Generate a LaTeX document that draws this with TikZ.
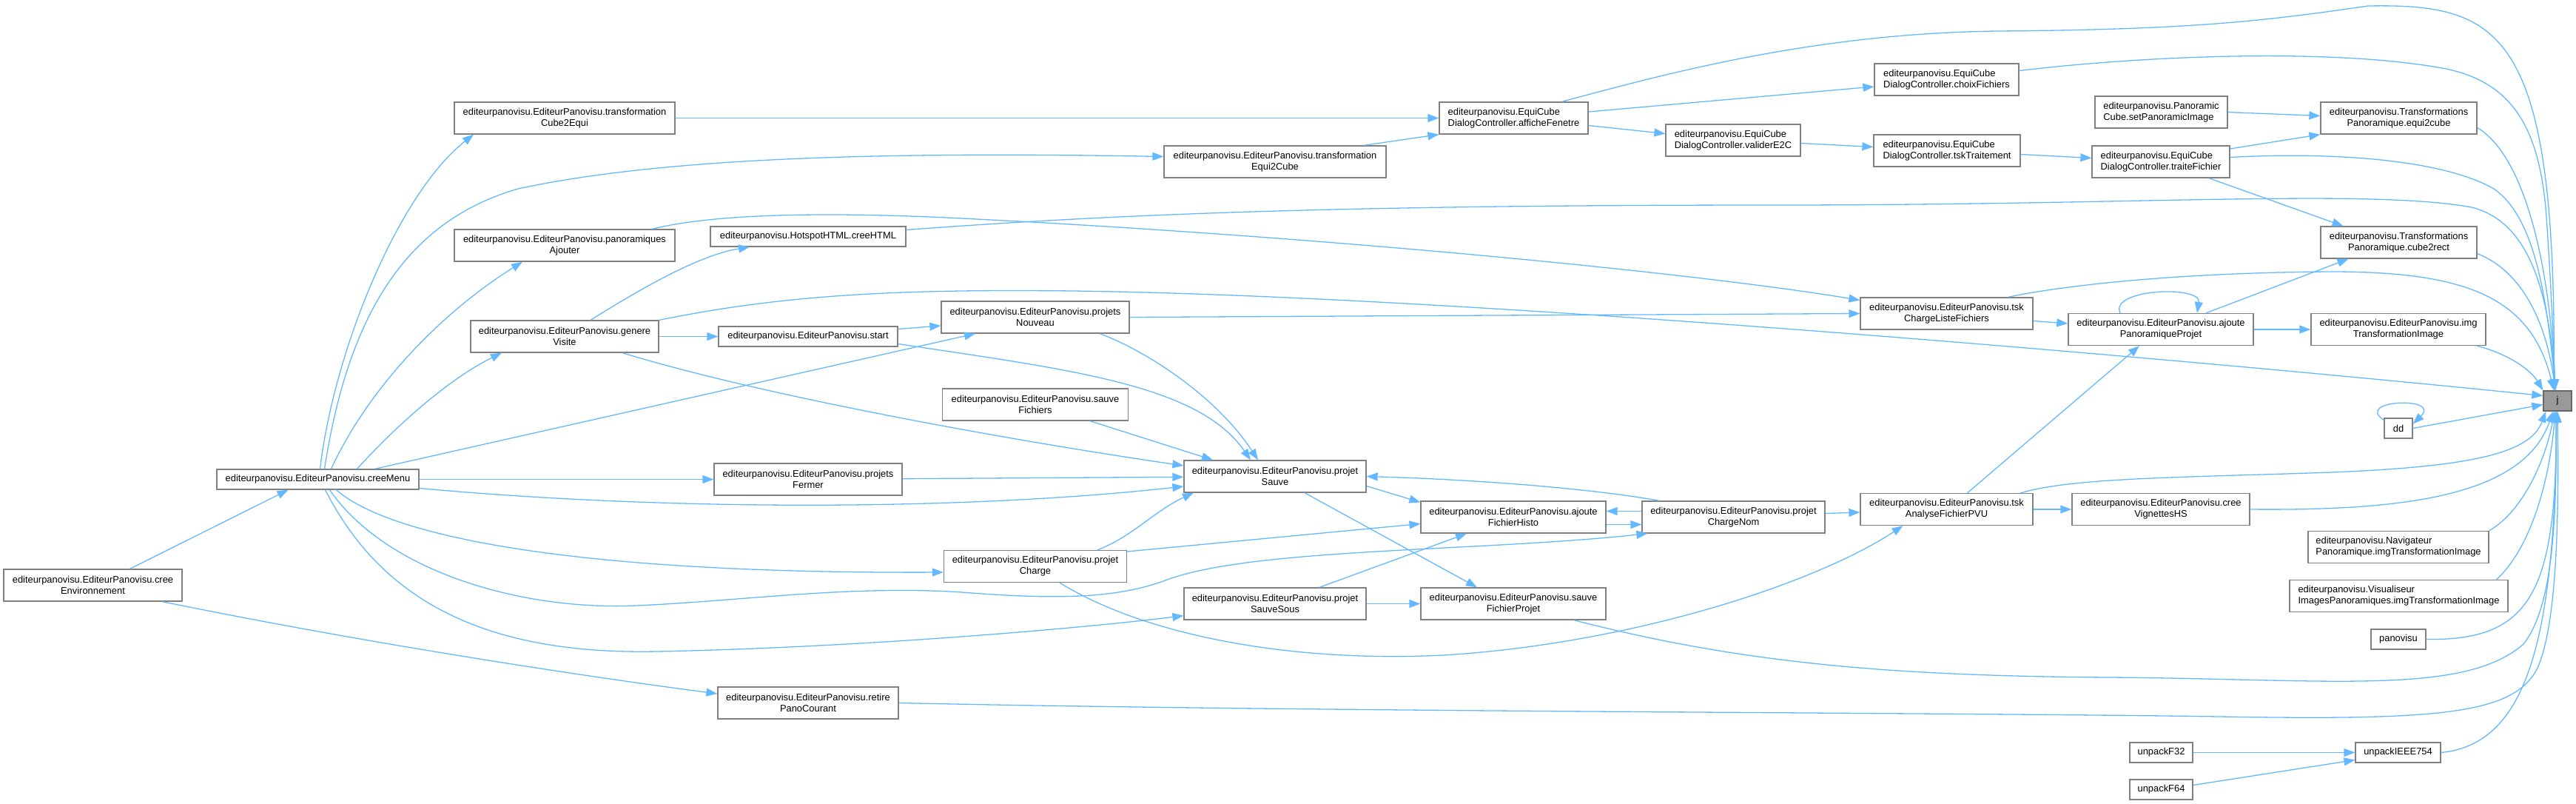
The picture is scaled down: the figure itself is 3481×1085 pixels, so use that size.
\documentclass[tikz,border=0pt]{standalone}
\usepackage{fontspec}
\setmainfont{Liberation Sans}
\usepackage{tikz}
\usetikzlibrary{arrows.meta}
\usepackage{xcolor}
\definecolor{EdgeColor}{RGB}{99,184,255}
\definecolor{BorderColor}{RGB}{128,128,128}
\definecolor{MarkedFill}{RGB}{153,153,153}
\definecolor{MarkedBorder}{RGB}{102,102,102}

\begin{document}
\begin{tikzpicture}[
            x=1pt, y=-1pt,
            font=\fontsize{12.9}{15.3}\selectfont,
            box/.style={draw=BorderColor, line width=1.3pt, fill=white, inner sep=0pt, align=center},
            fn/.style={box, minimum height=43},
            fnone/.style={box, minimum height=27},
            fnl/.style={fn, align=left},
            arrow/.style={-{Triangle[length=15pt,width=11pt]}, line width=1.3pt, EdgeColor}
        ]
            \useasboundingbox (0,0) rectangle (3481,1085);

            \node[fn, minimum width=241] (creeEnv) at (125.5,790.5) {editeurpanovisu.EditeurPanovisu.cree\\Environnement};
            \node[fnone, minimum width=273] (creeMenu) at (429.5,647.5) {editeurpanovisu.EditeurPanovisu.creeMenu};
            \node[fn, minimum width=298] (tfC2E) at (763,159.5) {editeurpanovisu.EditeurPanovisu.transformation\\Cube2Equi};
            \node[fn, minimum width=298] (panAjout) at (763,331.5) {editeurpanovisu.EditeurPanovisu.panoramiques\\Ajouter};
            \node[fn, minimum width=254] (genVisite) at (763,454.5) {editeurpanovisu.EditeurPanovisu.genere\\Visite};
            \node[fnone, minimum width=264] (creeHTML) at (1092,319.5) {editeurpanovisu.HotspotHTML.creeHTML};
            \node[fnone, minimum width=242] (start) at (1092,454.5) {editeurpanovisu.EditeurPanovisu.start};
            \node[fn, minimum width=254] (projFermer) at (1092,647.5) {editeurpanovisu.EditeurPanovisu.projets\\Fermer};
            \node[fn, minimum width=244] (retirePano) at (1092,949.5) {editeurpanovisu.EditeurPanovisu.retire\\PanoCourant};
            \node[fn, minimum width=254] (projNouveau) at (1399,428.5) {editeurpanovisu.EditeurPanovisu.projets\\Nouveau};
            \node[fn, minimum width=251] (sauveFich) at (1399,546.5) {editeurpanovisu.EditeurPanovisu.sauve\\Fichiers};
            \node[fn, minimum width=247] (projCharge) at (1399,765) {editeurpanovisu.EditeurPanovisu.projet\\Charge};
            \node[fn, minimum width=300] (tfE2C) at (1723,218.5) {editeurpanovisu.EditeurPanovisu.transformation\\Equi2Cube};
            \node[fn, minimum width=246] (projSauve) at (1723,643.5) {editeurpanovisu.EditeurPanovisu.projet\\Sauve};
            \node[fn, minimum width=246] (projSauveSous) at (1723,815.5) {editeurpanovisu.EditeurPanovisu.projet\\SauveSous};
            \node[fnl, minimum width=201] (afficheFen) at (2045.5,159.5) {editeurpanovisu.EquiCube\\DialogController.afficheFenetre};
            \node[fn, minimum width=250] (ajFichHisto) at (2045,698.5) {editeurpanovisu.EditeurPanovisu.ajoute\\FichierHisto};
            \node[fn, minimum width=250] (sauveFichProj) at (2045,815.5) {editeurpanovisu.EditeurPanovisu.sauve\\FichierProjet};
            \node[fnl, minimum width=182] (validerE2C) at (2342,189.5) {editeurpanovisu.EquiCube\\DialogController.validerE2C};
            \node[fn, minimum width=247] (chargeNom) at (2342.5,698.5) {editeurpanovisu.EditeurPanovisu.projet\\ChargeNom};
            \node[fnl, minimum width=195] (choixFich) at (2630.5,107.5) {editeurpanovisu.EquiCube\\DialogController.choixFichiers};
            \node[fnl, minimum width=198] (tskTrait) at (2631,203.5) {editeurpanovisu.EquiCube\\DialogController.tskTraitement};
            \node[fn, minimum width=233] (tskChargeLF) at (2630.5,423.5) {editeurpanovisu.EditeurPanovisu.tsk\\ChargeListeFichiers};
            \node[fn, minimum width=233] (tskAnalyse) at (2630.5,688) {editeurpanovisu.EditeurPanovisu.tsk\\AnalyseFichierPVU};
            \node[fnl, minimum width=179] (setPanoImg) at (2920.5,151.5) {editeurpanovisu.Panoramic\\Cube.setPanoramicImage};
            \node[fnl, minimum width=186] (traiteFich) at (2920,218.5) {editeurpanovisu.EquiCube\\DialogController.traiteFichier};
            \node[fn, minimum width=250] (ajPanoProj) at (2920,445) {editeurpanovisu.EditeurPanovisu.ajoute\\PanoramiqueProjet};
            \node[fn, minimum width=240] (creeVignHS) at (2920,688) {editeurpanovisu.EditeurPanovisu.cree\\VignettesHS};
            \node[fnone, minimum width=85] (unpackF32) at (2920.5,1016.5) {unpackF32};
            \node[fnone, minimum width=85] (unpackF64) at (2920.5,1066.5) {unpackF64};
            \node[fn, minimum width=211] (equi2cube) at (3241.5,159.5) {editeurpanovisu.Transformations\\Panoramique.equi2cube};
            \node[fn, minimum width=211] (cube2rect) at (3241.5,327.5) {editeurpanovisu.Transformations\\Panoramique.cube2rect};
            \node[fn, minimum width=236] (imgTransfo) at (3241,445) {editeurpanovisu.EditeurPanovisu.img\\TransformationImage};
            \node[fnone, minimum width=38] (dd) at (3241,578.5) {dd};
            \node[fnl, minimum width=244] (navImg) at (3241,739) {editeurpanovisu.Navigateur\\Panoramique.imgTransformationImage};
            \node[fnl, minimum width=295] (visuImg) at (3241.5,805) {editeurpanovisu.Visualiseur\\ImagesPanoramiques.imgTransformationImage};
            \node[fnone, minimum width=74] (panovisu) at (3241,863.5) {panovisu};
            \node[fnone, minimum width=115] (unpackIEEE) at (3240.5,1016.5) {unpackIEEE754};
            \node[fnone, minimum width=38, fill=MarkedFill, draw=MarkedBorder] (j) at (3456,541.5) {j};

            \draw[arrow] ([xshift=50]creeEnv.north) -- ([xshift=-40]creeMenu.south);
            \draw[arrow] ([xshift=94]creeEnv.south) .. controls (500,870) and (800,915) .. ([yshift=12.5]retirePano.west);

            \draw[arrow] ([xshift=3]creeMenu.north) .. controls (452,470) and (540,260) .. ([xshift=-123]tfC2E.south);
            \draw[arrow] ([xshift=9]creeMenu.north) .. controls (470,430) and (545,300) .. (700,255) .. controls (900,212) and (1200,205) .. ([yshift=7]tfE2C.west);
            \draw[arrow] ([xshift=18]creeMenu.north) .. controls (500,520) and (600,420) .. ([xshift=-57]panAjout.south);
            \draw[arrow] ([xshift=53]creeMenu.north) .. controls (540,570) and (610,510) .. ([xshift=-85]genVisite.south);
            \draw[arrow] ([xshift=77]creeMenu.north) -- ([xshift=-81]projNouveau.south);
            \draw[arrow] (creeMenu) -- (projFermer);
            \draw[arrow] ([yshift=-12]creeMenu.east) .. controls (900,690) and (1300,690) .. ([yshift=-13.5]projSauve.west);
            \draw[arrow] ([xshift=25]creeMenu.south) .. controls (520,720) and (750,775) .. ([yshift=-8]projCharge.west);
            \draw[arrow] ([xshift=16]creeMenu.south) .. controls (520,770) and (700,825) .. (860,818) .. controls (1000,812) and (1150,790) .. (1300,800) .. controls (1450,812) and (1520,805) .. (1580,782) .. controls (1700,740) and (2000,745) .. ([xshift=8]chargeNom.south west);
            \draw[arrow] ([xshift=10]creeMenu.south) .. controls (510,800) and (640,885) .. (887,880) .. controls (1150,875) and (1450,850) .. ([yshift=6]projSauveSous.south west);

            \draw[arrow] ([xshift=35]genVisite.north) .. controls (850,400) and (940,345) .. ([xshift=-79]creeHTML.south);
            \draw[arrow] (genVisite) -- (start);
            \draw[arrow] ([xshift=78]genVisite.south) .. controls (1050,540) and (1400,600) .. ([yshift=14.5]projSauve.west);
            \draw[arrow] (genVisite.north east) .. controls (1050,400) and (1200,390) .. (1450,393) .. controls (2000,400) and (3000,490) .. ([yshift=7]j.west);

            \draw[arrow] ([yshift=9]creeHTML.east) .. controls (1500,290) and (1800,277) .. (2400,277) .. controls (2900,277) and (3200,255) .. (3340,280) .. controls (3420,300) and (3445,400) .. ([xshift=-3]j.north);
            \draw[arrow] ([xshift=118]panAjout.north) .. controls (960,290) and (1100,285) .. (1300,295) .. controls (1800,320) and (2300,370) .. ([yshift=18]tskChargeLF.west);

            \draw[arrow] ([yshift=10]start.east) -- ([yshift=-11.5]projNouveau.west);
            \draw[arrow] ([yshift=-10]start.east) .. controls (1450,500) and (1620,520) .. ([xshift=-33]projSauve.north);
            \draw[arrow] ([xshift=87]projNouveau.south) .. controls (1540,470) and (1640,530) .. ([xshift=-23]projSauve.north);
            \draw[arrow] (projNouveau.east) -- (tskChargeLF.west);
            \draw[arrow] ([xshift=74]sauveFich.south) -- ([xshift=-84]projSauve.north);
            \draw[arrow] (projFermer) -- (projSauve);

            \draw[arrow] ([xshift=84]projCharge.north) .. controls (1530,725) and (1560,690) .. ([xshift=-110]projSauve.south);
            \draw[arrow] ([yshift=20]projCharge.east) -- ([yshift=-9]ajFichHisto.west);
            \draw[arrow] ([xshift=33]projCharge.south) .. controls (1550,860) and (1750,895) .. (1950,885) .. controls (2200,870) and (2450,790) .. ([xshift=-59]tskAnalyse.south);

            \draw[arrow] ([yshift=-13]projSauve.east) -- ([yshift=20]ajFichHisto.west);
            \draw[arrow] ([xshift=40]projSauve.south) -- ([xshift=-49]sauveFichProj.north);
            \draw[arrow] ([xshift=60]projSauveSous.north) -- ([xshift=-63]ajFichHisto.south);
            \draw[arrow] (projSauveSous) -- (sauveFichProj);
            \draw[arrow] ([yshift=-10]ajFichHisto.east) -- ([yshift=-10]chargeNom.west);
            \draw[arrow] ([yshift=8]chargeNom.west) -- ([yshift=8]ajFichHisto.east);
            \draw[arrow] ([xshift=-100]chargeNom.north) .. controls (2150,660) and (2000,648) .. (projSauve.east);
            \draw[arrow] ([yshift=5]chargeNom.east) -- ([yshift=-4]tskAnalyse.west);

            \draw[arrow] ([xshift=82]sauveFichProj.south) .. controls (2350,895) and (2550,913) .. (2850,915) .. controls (3150,917) and (3330,940) .. (3410,870) .. controls (3450,820) and (3455,700) .. ([xshift=-2]j.south);
            \draw[arrow] (retirePano.east) .. controls (1800,962) and (2600,962) .. (3000,968) .. controls (3300,973) and (3400,965) .. (3430,900) .. controls (3455,840) and (3458,700) .. (j.south);

            \draw[arrow] (tfC2E) -- (afficheFen);
            \draw[arrow] ([xshift=120]tfE2C.north) -- (afficheFen.south west);
            \draw[arrow] ([yshift=8.5]afficheFen.east) -- ([yshift=-9.5]choixFich.west);
            \draw[arrow] ([yshift=-10]afficheFen.east) -- ([yshift=9]validerE2C.west);
            \draw[arrow] ([xshift=65]afficheFen.north) .. controls (2250,100) and (2450,45) .. (2700,42) .. controls (2950,40) and (3050,30) .. (3200,8) .. controls (3380,5) and (3455,40) .. ([xshift=-5]j.north);
            \draw[arrow] ([yshift=12]choixFich.east) .. controls (2900,75) and (3150,65) .. (3300,92) .. controls (3400,110) and (3430,180) .. (3440,280) .. controls (3446,360) and (3450,450) .. ([xshift=-3]j.north);
            \draw[arrow] ([yshift=-4]validerE2C.east) -- ([yshift=5]tskTrait.west);
            \draw[arrow] ([yshift=-5]tskTrait.east) -- ([yshift=5]traiteFich.west);

            \draw[arrow] (setPanoImg.east) -- ([yshift=3]equi2cube.west);
            \draw[arrow] ([yshift=17.5]traiteFich.east) -- (equi2cube.south west);
            \draw[arrow] ([xshift=65]traiteFich.south) -- ([xshift=-75]cube2rect.north);
            \draw[arrow] ([yshift=6]traiteFich.east) .. controls (3150,205) and (3300,215) .. (3370,255) .. controls (3420,290) and (3440,380) .. ([xshift=-3]j.north);
            \draw[arrow] ([yshift=-13]equi2cube.east) .. controls (3410,210) and (3445,350) .. ([xshift=-3]j.north);
            \draw[arrow] ([yshift=-15]cube2rect.east) .. controls (3405,365) and (3440,430) .. ([xshift=-3]j.north);

            \draw[arrow] ([yshift=-10]tskChargeLF.east) -- ([yshift=8]ajPanoProj.west);
            \draw[arrow] ([xshift=83]tskChargeLF.north) .. controls (2790,385) and (2950,368) .. (3150,367) .. controls (3330,367) and (3420,400) .. ([xshift=-5]j.north);
            \draw[arrow] ([xshift=-55]ajPanoProj.north) .. controls (2850,390) and (2975,385) .. ([xshift=49]ajPanoProj.north);
            \draw[arrow] ([xshift=61]ajPanoProj.north) -- ([xshift=-68]cube2rect.south);
            \draw[arrow] (ajPanoProj) -- (imgTransfo);
            \draw[arrow] ([xshift=106]imgTransfo.south) .. controls (3390,478) and (3420,500) .. (j.north west);

            \draw[arrow] ([yshift=-3]dd.north west) .. controls (3180,540) and (3300,535) .. ([yshift=6]dd.east);
            \draw[arrow] (dd.east) -- ([yshift=-5]j.west);

            \draw[arrow] ([xshift=28]tskAnalyse.north) -- ([xshift=-29]ajPanoProj.south);
            \draw[arrow] (tskAnalyse) -- (creeVignHS);
            \draw[arrow] ([xshift=100]tskAnalyse.north) .. controls (2800,645) and (2950,645) .. (3150,638) .. controls (3350,630) and (3420,610) .. ([xshift=4]j.south west);
            \draw[arrow] (creeVignHS.east) .. controls (3250,690) and (3410,670) .. ([xshift=-6]j.south);
            \draw[arrow] (navImg.north east) .. controls (3410,690) and (3440,620) .. ([xshift=-4]j.south);
            \draw[arrow] ([xshift=132]visuImg.north) .. controls (3420,740) and (3445,650) .. ([xshift=-3]j.south);
            \draw[arrow] (panovisu.east) .. controls (3420,866) and (3455,800) .. ([xshift=-2]j.south);
            \draw[arrow] (unpackIEEE.east) .. controls (3420,1005) and (3452,850) .. ([xshift=-1]j.south);
            \draw[arrow] (unpackF32) -- (unpackIEEE);
            \draw[arrow] ([yshift=6]unpackF64.east) -- ([yshift=-10]unpackIEEE.west);
        \end{tikzpicture}
\end{document}
